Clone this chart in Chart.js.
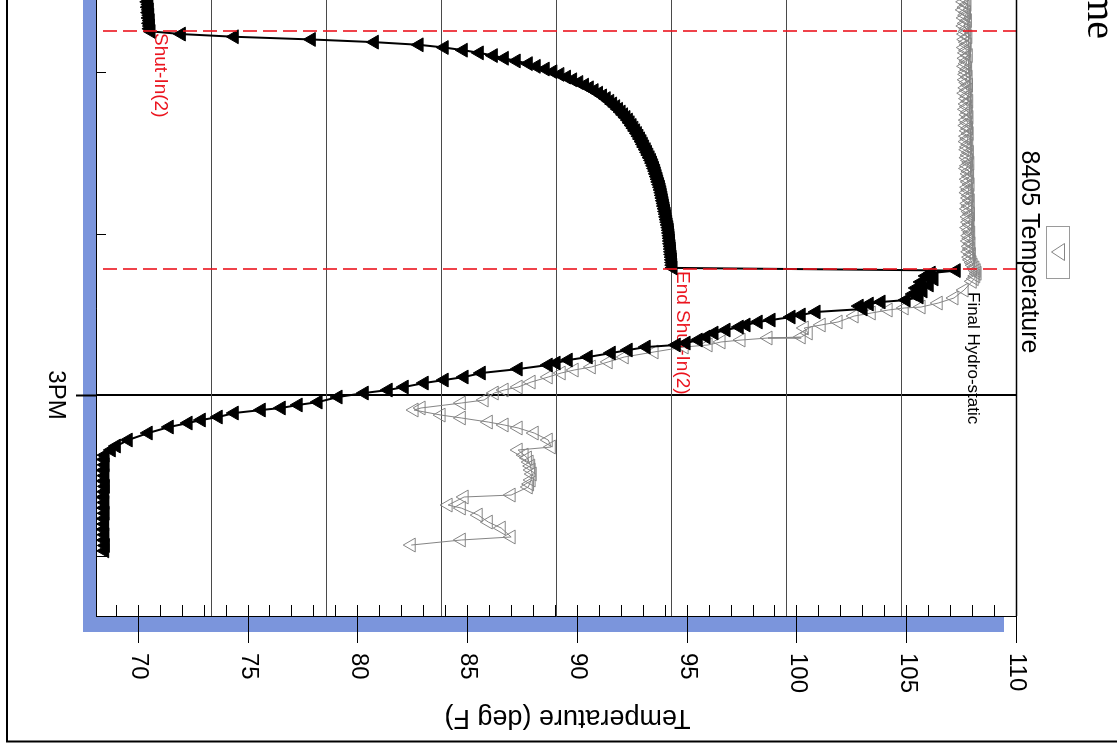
<!DOCTYPE html>
<html>
<head>
<meta charset="utf-8">
<title>8405 Temperature</title>
<script src="https://cdn.jsdelivr.net/npm/chart.js@4.4.1/dist/chart.umd.min.js"></script>
<style>
  html, body { margin: 0; padding: 0; width: 1117px; height: 746px; overflow: hidden; background: #fff; }
  /* the chart is laid out upright and turned a quarter clockwise, like the scanned page */
  #page { position: absolute; left: 0; top: 0; width: 746px; height: 1117px;
          transform-origin: 0 0; transform: translate(1117px, 0) rotate(90deg); }
</style>
</head>
<body>
<div id="page"><canvas id="tempChart" width="746" height="1117"></canvas></div>
<script>
// Gauge temperatures against clock time (minutes after midnight, 900 = 3PM)

// 15 second samples through the second shut-in
const sampleTimes = [
  862.93, 863.18, 863.43, 863.68, 863.93, 864.18, 864.43, 864.68, 864.93, 865.18,
  865.43, 865.68, 865.93, 866.18, 866.43, 866.68, 866.93, 867.18, 867.43, 867.68,
  867.93, 868.18, 868.43, 868.68, 868.93, 869.18, 869.43, 869.68, 869.93, 870.18,
  870.43, 870.68, 870.93, 871.18, 871.43, 871.68, 871.93, 872.18, 872.43, 872.68,
  872.93, 873.18, 873.43, 873.68, 873.93, 874.18, 874.43, 874.68, 874.93, 875.18,
  875.43, 875.68, 875.93, 876.18, 876.43, 876.68, 876.93, 877.18, 877.43, 877.68,
  877.93, 878.18, 878.43, 878.68, 878.93, 879.18, 879.43, 879.68, 879.93, 880.18,
  880.43, 880.68, 880.93, 881.18, 881.43, 881.68, 881.93, 882.18, 882.43, 882.68,
  882.93, 883.18, 883.43, 883.68, 883.93, 884.18, 884.43, 884.68, 884.93, 885.18,
  885.43, 885.68, 885.93, 886.18, 886.43, 886.68, 886.93, 887.18, 887.43, 887.68,
  887.93, 888.18, 888.43, 888.68, 888.93, 889.18, 889.43
];

// black gauge (filled triangles)
const gaugeTempSampled = [
  70.40, 70.44, 70.41, 70.46, 70.43, 70.48, 70.45, 70.50, 70.47, 70.52,
  70.49, 70.53, 70.51, 70.56,
  71.94, 74.35, 77.86, 80.73, 82.77, 83.91, 84.78, 85.51, 86.15, 86.65, 87.19, 87.74,
  88.10, 88.51, 88.86, 89.18, 89.48, 89.76, 90.04, 90.30, 90.52, 90.74,
  90.94, 91.12, 91.29, 91.45, 91.58, 91.72, 91.85, 91.97, 92.08, 92.19,
  92.30, 92.38, 92.47, 92.55, 92.63, 92.71, 92.78, 92.85, 92.92, 92.98,
  93.04, 93.11, 93.17, 93.23, 93.29, 93.35, 93.40, 93.45, 93.49, 93.54,
  93.57, 93.61, 93.65, 93.68, 93.72, 93.76, 93.79, 93.82, 93.84, 93.87,
  93.89, 93.92, 93.94, 93.97, 93.99, 94.02, 94.04, 94.06, 94.09, 94.11,
  94.14, 94.16, 94.17, 94.19, 94.20, 94.21, 94.22, 94.24, 94.25, 94.26,
  94.27, 94.29, 94.30, 94.31, 94.32, 94.33
];
const gaugeTimeLate = [
  888.43, 888.66, 888.93, 889.21, 889.49, 889.77, 890.05, 890.33, 890.61, 890.89,
  891.17, 891.35, 891.54, 891.73, 892.00, 892.28, 892.56, 892.75, 893.03, 893.21,
  893.49, 893.68, 893.96, 894.24, 894.61, 894.89, 895.17, 895.35, 895.54, 895.82,
  896.10, 896.47, 896.75, 897.03, 897.21, 897.59, 897.96, 898.33, 898.61, 898.89,
  899.26, 899.54, 899.82, 900.19, 900.66, 900.93, 901.21, 901.40, 901.68, 902.05,
  902.33, 902.61, 902.98, 903.54, 904.19, 904.75, 905.12, 905.59,
  906.0, 906.5, 907.0, 907.5, 908.0, 908.5, 909.0, 909.5, 910.0, 910.5,
  911.0, 911.5, 912.0, 912.5, 913.0, 913.5, 914.0, 914.5
];
const gaugeTempLate = [
  107.23, 106.09, 105.86, 106.22, 105.63, 106.00, 105.41, 105.72, 105.27, 105.54,
  104.95, 103.81, 103.27, 102.81, 102.99, 100.85, 100.17, 99.71, 98.80, 98.21,
  97.66, 97.35, 96.75, 96.20, 95.84, 95.48, 94.93, 94.48, 93.11, 92.29,
  91.52, 90.47, 89.56, 89.01, 88.65, 87.28, 85.60, 84.82, 83.91, 83.00,
  82.09, 81.36, 80.27, 79.08, 78.17, 77.26, 76.49, 75.58, 74.35, 73.62,
  72.85, 72.25, 71.39, 70.43, 69.52, 68.98, 68.75, 68.47,
  68.44, 68.47, 68.42, 68.46, 68.43, 68.48, 68.45, 68.41, 68.46, 68.44,
  68.47, 68.43, 68.45, 68.42, 68.46, 68.44, 68.48, 68.45
];

// 8405 gauge (hollow triangles)
const gauge8405TempSampled = [
  107.60, 107.68, 107.57, 107.72, 107.63, 107.55, 107.70, 107.66, 107.59, 107.74,
  107.64, 107.58, 107.71, 107.67, 107.61, 107.76, 107.62, 107.69, 107.73, 107.60,
  107.70, 107.65, 107.78, 107.63, 107.72, 107.68, 107.61, 107.75, 107.69, 107.66,
  107.77, 107.64, 107.71, 107.79, 107.67, 107.73, 107.62, 107.76, 107.70, 107.80,
  107.68, 107.74, 107.65, 107.78, 107.72, 107.81, 107.69, 107.75, 107.67, 107.79,
  107.73, 107.82, 107.70, 107.76, 107.68, 107.80, 107.74, 107.71, 107.83, 107.77,
  107.72, 107.79, 107.85, 107.74, 107.70, 107.81, 107.77, 107.84, 107.73, 107.78,
  107.86, 107.75, 107.80, 107.72, 107.83, 107.79, 107.87, 107.76, 107.82, 107.74,
  107.81, 107.88, 107.77, 107.84, 107.79, 107.86, 107.75, 107.83, 107.89, 107.80,
  107.85, 107.78, 107.90, 107.82, 107.87, 107.80, 107.92, 107.84, 107.88, 107.95,
  108.00, 108.08, 108.14, 108.18, 108.12, 108.05, 107.96
];
const gauge8405TimeLate = [
  890.24, 890.98, 891.45, 891.82, 891.91, 892.10, 892.38, 892.66, 893.21, 893.49,
  893.77, 894.24, 894.61, 894.70, 894.89, 895.07, 895.35, 895.54, 896.00, 896.47,
  896.93, 897.40, 897.68, 897.96, 898.33, 898.80, 899.26, 899.54, 899.82, 900.47,
  900.75, 901.21, 901.40, 901.87, 902.14, 902.52, 902.79, 903.07, 903.54, 904.19,
  904.84, 905.12, 905.59, 905.86, 906.24, 906.61, 906.98, 907.35, 907.91, 908.28,
  908.56, 909.31, 909.49, 910.24, 910.52, 911.17, 911.82, 912.38, 913.21, 913.49,
  913.96
];
const gauge8405TempLate = [
  107.59, 107.13, 106.41, 105.63, 104.86, 104.13, 103.36, 102.58, 101.85, 101.08,
  100.31, 100.49, 100.17, 98.66, 97.43, 96.52, 95.93, 94.84, 93.47, 92.11,
  91.38, 90.61, 89.83, 89.24, 88.65, 87.87, 87.28, 86.64, 86.19, 85.73,
  84.69, 82.86, 82.54, 83.77, 84.69, 85.92, 86.64, 87.28, 88.01, 88.65,
  88.79, 87.28, 87.55, 87.70, 87.78, 87.85, 87.87, 87.92, 87.87, 87.80,
  87.74, 86.96, 84.82, 84.09, 84.69, 85.46, 85.92, 86.51, 86.96, 84.69,
  82.41
];

// axes
const timeTicks = [870, 885, 900, 915];
const timeTickLabels = ['', '', '3PM', ''];
const tempTicks = [70, 75, 80, 85, 90, 95, 100, 105, 110];
const tempAxisTitle = 'Temperature (deg F)';

// events marked on the plot
const eventTimes = [866.14, 888.28, 890.2];
const eventNames = ['Shut-In(2)', 'End Shut-In(2)', 'Final Hydro-static'];
const eventTemps = [70.55, 94.33, 107.6];
const eventColors = ['rgb(235,20,30)', 'rgb(235,20,30)', 'rgb(0,0,0)'];
const eventDashed = [true, true, false];

const chartTitle = 'Temperature vs Time';

const SHADOW = '#7b95dc';
const GRAY = '#858585';
const SANS = '"Liberation Sans", Arial, sans-serif';

Chart.defaults.font.family = SANS;
Chart.defaults.color = '#000';

function points(times, temps) {
    return temps.map((v, i) => ({ x: times[i], y: v }));
}

// plot frame, blue drop shadow, ticks, outer border, titles and legend
const pageFrame = {
    id: 'pageFrame',
    beforeDraw(chart) {
        const { ctx, chartArea: a, width, height } = chart;
        ctx.save();
        ctx.fillStyle = '#fff';
        ctx.fillRect(0, 0, width, height);
        ctx.fillStyle = SHADOW;
        ctx.fillRect(a.left, a.top + 13, a.right - a.left + 16, a.bottom - a.top + 1);
        ctx.fillStyle = '#fff';
        ctx.fillRect(a.left, a.top, a.right - a.left, a.bottom - a.top);
        ctx.restore();
    },
    beforeDatasetsDraw(chart) {
        // event names sit under the gauge traces
        const ts = chart.scales.temp;
        const xs = chart.scales.x;
        const ctx = chart.ctx;
        ctx.save();
        eventTimes.forEach((t, i) => {
            ctx.fillStyle = eventColors[i];
            ctx.font = (eventDashed[i] ? '19px ' : '17px ') + SANS;
            ctx.textAlign = 'left';
            ctx.textBaseline = 'bottom';
            ctx.fillText(eventNames[i], Math.round(xs.getPixelForValue(t)) + 2, ts.getPixelForValue(eventTemps[i]));
        });
        ctx.restore();
    },
    afterDatasetsDraw(chart) {
        // dashed event lines across the plot
        const { ctx, chartArea: a } = chart;
        const xs = chart.scales.x;
        ctx.save();
        eventTimes.forEach((t, i) => {
            if (!eventDashed[i]) return;
            const x = Math.round(xs.getPixelForValue(t));
            ctx.strokeStyle = eventColors[i];
            ctx.lineWidth = 1.6;
            ctx.setLineDash([14, 6]);
            ctx.beginPath();
            ctx.moveTo(x, a.top);
            ctx.lineTo(x, a.bottom);
            ctx.stroke();
        });
        ctx.restore();
    },
    afterDraw(chart) {
        const { ctx, chartArea: a } = chart;
        const xs = chart.scales.x;
        const ts = chart.scales.temp;
        ctx.save();
        ctx.strokeStyle = '#000';

        // top edge of the plot box
        ctx.lineWidth = 1.5;
        ctx.beginPath();
        ctx.moveTo(a.left, a.top + 0.5);
        ctx.lineTo(a.right, a.top + 0.5);
        ctx.stroke();

        // time ticks: short ones inside, the hour one runs out through the shadow
        timeTicks.forEach((v, i) => {
            const x = Math.round(xs.getPixelForValue(v)) + 0.5;
            ctx.beginPath();
            if (timeTickLabels[i]) {
                ctx.lineWidth = 2;
                ctx.moveTo(x, a.bottom);
                ctx.lineTo(x, a.bottom + 21);
            } else {
                ctx.lineWidth = 1;
                ctx.moveTo(x, a.bottom - 9);
                ctx.lineTo(x, a.bottom);
            }
            ctx.stroke();
        });

        // temperature ticks every degree, long ones every five
        ctx.lineWidth = 1;
        for (let v = Math.ceil(ts.min); v <= ts.max; v++) {
            const y = Math.round(ts.getPixelForValue(v)) + 0.5;
            ctx.beginPath();
            ctx.moveTo(a.right - 11, y);
            ctx.lineTo(tempTicks.includes(v) ? a.right + 27 : a.right, y);
            ctx.stroke();
        }

        // temperature axis title, reading downwards beside the tick labels
        ctx.save();
        ctx.translate(a.right + 101.5, a.top + 449.5);
        ctx.rotate(Math.PI / 2);
        ctx.fillStyle = '#000';
        ctx.font = '27px ' + SANS;
        ctx.textAlign = 'center';
        ctx.textBaseline = 'middle';
        ctx.fillText(tempAxisTitle, 0, 0);
        ctx.restore();

        // outer page border
        ctx.lineWidth = 2;
        ctx.beginPath();
        ctx.moveTo(741.5, 0);
        ctx.lineTo(741.5, 1110);
        ctx.lineTo(0, 1110);
        ctx.stroke();

        // chart title, mostly off the edge of the page
        ctx.fillStyle = '#000';
        ctx.font = '40px "Liberation Serif", "Times New Roman", serif';
        ctx.textAlign = 'right';
        ctx.textBaseline = 'alphabetic';
        ctx.fillText(chartTitle, 39, 29);

        // legend entry for the 8405 gauge: symbol box above its name
        const ds = chart.data.datasets[1];
        const cx = 252;
        ctx.fillStyle = '#fff';
        ctx.fillRect(226, 47, 52, 23);
        ctx.strokeStyle = '#9a9a9a';
        ctx.lineWidth = 1;
        ctx.strokeRect(226.5, 47.5, 52, 23);
        ctx.strokeStyle = ds.pointBorderColor;
        ctx.beginPath();
        ctx.moveTo(cx - 8.5, 52.5);
        ctx.lineTo(cx + 8.5, 52.5);
        ctx.lineTo(cx, 65.5);
        ctx.closePath();
        ctx.stroke();
        ctx.fillStyle = '#000';
        ctx.font = '25px ' + SANS;
        ctx.textAlign = 'center';
        ctx.fillText(ds.label, cx, 95);
        ctx.restore();
    }
};

new Chart(document.getElementById('tempChart'), {
    type: 'line',
    data: {
        datasets: [{
            label: 'Temperature',
            data: points(sampleTimes, gaugeTempSampled).concat(points(gaugeTimeLate, gaugeTempLate)),
            yAxisID: 'temp',
            borderColor: '#000',
            borderWidth: 2,
            pointStyle: 'triangle',
            pointRotation: 180,
            pointRadius: 8,
            pointBackgroundColor: '#000',
            pointBorderColor: '#000',
            pointBorderWidth: 1,
            tension: 0
        }, {
            label: '8405 Temperature',
            data: points(sampleTimes, gauge8405TempSampled).concat(points(gauge8405TimeLate, gauge8405TempLate)),
            yAxisID: 'temp',
            borderColor: GRAY,
            borderWidth: 1,
            pointStyle: 'triangle',
            pointRotation: 180,
            pointRadius: 8,
            pointBackgroundColor: 'rgba(255,255,255,0)',
            pointBorderColor: GRAY,
            pointBorderWidth: 1,
            tension: 0
        }]
    },
    options: {
        responsive: false,
        animation: false,
        events: [],
        layout: { autoPadding: false, padding: { top: 100, left: 0, right: 0, bottom: 0 } },
        plugins: {
            legend: { display: false },
            title: { display: false },
            tooltip: { enabled: false }
        },
        scales: {
            x: {
                type: 'linear',
                position: 'bottom',
                min: 863.26,
                max: 920.56,
                afterBuildTicks: s => { s.ticks = timeTicks.map(v => ({ value: v })); },
                afterFit: s => { s.height = 97; s.paddingLeft = 0; s.paddingRight = 0; },
                ticks: {
                    autoSkip: false,
                    maxRotation: 0,
                    padding: 27,
                    font: { size: 24 },
                    callback: (v, i) => timeTickLabels[i]
                },
                grid: {
                    drawTicks: false,
                    lineWidth: 2,
                    color: c => (c.tick && timeTickLabels[timeTicks.indexOf(c.tick.value)]) ? '#000' : 'rgba(0,0,0,0)'
                },
                border: { display: true, color: '#000', width: 1 }
            },
            y: {
                // pressure axis of the full chart, only its grid reaches this part of the page
                position: 'left',
                min: 0,
                max: 3860,
                afterFit: s => { s.width = 0; s.paddingTop = 0; s.paddingBottom = 0; },
                ticks: { display: false, stepSize: 500 },
                grid: { color: '#4a4a4a', lineWidth: 1, drawTicks: false },
                border: { display: false }
            },
            temp: {
                position: 'right',
                min: 68.1,
                max: 110,
                afterBuildTicks: s => { s.ticks = tempTicks.map(v => ({ value: v })); },
                afterFit: s => { s.width = 130; },
                ticks: {
                    padding: 37,
                    font: { size: 24 },
                    callback: v => String(v)
                },
                grid: { display: false, drawTicks: false },
                border: { display: true, color: '#000', width: 1 }
            }
        }
    },
    plugins: [pageFrame]
});
</script>
</body>
</html>
